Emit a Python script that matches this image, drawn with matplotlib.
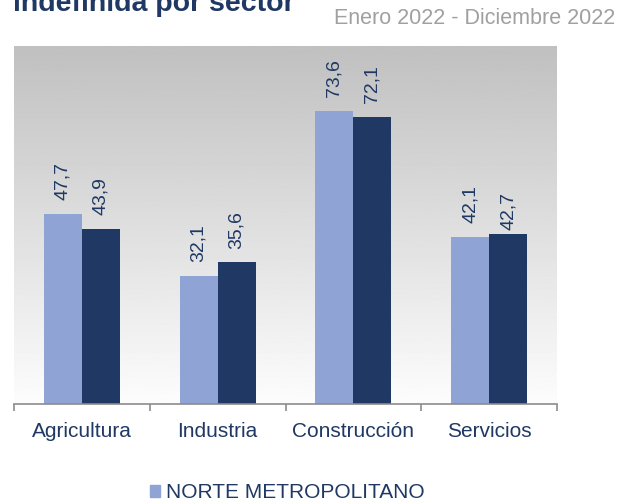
import numpy as np
import matplotlib
matplotlib.use("Agg")
import matplotlib.pyplot as plt
from matplotlib.patches import Patch

# datos
sectores = ["Agricultura", "Industria", "Construcción", "Servicios"]
norte_metro = [47.7, 32.1, 73.6, 42.1]
segunda_serie = [43.9, 35.6, 72.1, 42.7]

plt.rcParams['font.family'] = ['Liberation Sans', 'DejaVu Sans']

azul_claro = "#8FA3D4"
azul_oscuro = "#1F3864"

fig = plt.figure(figsize=(6.34, 5.04), dpi=100)
ax = fig.add_axes([14 / 634, 1 - 404 / 504, 543 / 634, 358 / 504])

# fondo degradado gris (arriba) -> blanco (abajo)
grad = np.linspace(0.99, 0.753, 256).reshape(-1, 1)
ax.imshow(grad, extent=(-0.5, 3.5, 0, 90), origin="lower", aspect="auto",
          cmap="gray", vmin=0, vmax=1, zorder=0)

x = np.arange(len(sectores))
w = 0.28
b1 = ax.bar(x - w / 2, norte_metro, w, color=azul_claro, zorder=2)
b2 = ax.bar(x + w / 2, segunda_serie, w, color=azul_oscuro, zorder=2)

for bars, vals in ((b1, norte_metro), (b2, segunda_serie)):
    for r, v in zip(bars, vals):
        off = 3 if (bars is b2 and r is bars[-1]) else 10
        ax.annotate(f"{v:.1f}".replace(".", ","),
                    xy=(r.get_x() + r.get_width() / 2, v),
                    xytext=(0, off), textcoords="offset points",
                    rotation=90, ha="center", va="bottom",
                    fontsize=14, color=azul_oscuro, zorder=3)

ax.set_xlim(-0.5, 3.5)
ax.set_ylim(0, 90)
ax.set_yticks([])
for s in ("top", "left", "right"):
    ax.spines[s].set_visible(False)
ax.spines["bottom"].set_color("#8C8C8C")
ax.spines["bottom"].set_linewidth(1.2)
ax.set_xticks(np.arange(-0.5, 4, 1))
ax.set_xticklabels([])
ax.set_xticks(x, minor=True)
ax.set_xticklabels(sectores, minor=True, fontsize=15, color=azul_oscuro)
ax.tick_params(axis="x", which="major", length=5, color="#8C8C8C", width=1.2)
ax.tick_params(axis="x", which="minor", length=0, pad=13)

fig.text(13 / 634, 1 - 11 / 504, "indefinida por sector", fontsize=20.5,
         fontweight="bold", color=azul_oscuro, va="baseline", ha="left")
fig.text(615 / 634, 1 - 18 / 504, "Enero 2022 - Diciembre 2022", fontsize=15.5,
         color="#A0A0A0", ha="right", va="center")

fig.legend(handles=[Patch(color=azul_claro, label="NORTE METROPOLITANO")],
           loc="center left", bbox_to_anchor=(150 / 634, 1 - 493 / 504),
           frameon=False, borderaxespad=0, borderpad=0,
           fontsize=15, handlelength=0.5, handleheight=0.5, handletextpad=0.25,
           labelcolor=azul_oscuro)

fig.savefig("out.png", dpi=100)
